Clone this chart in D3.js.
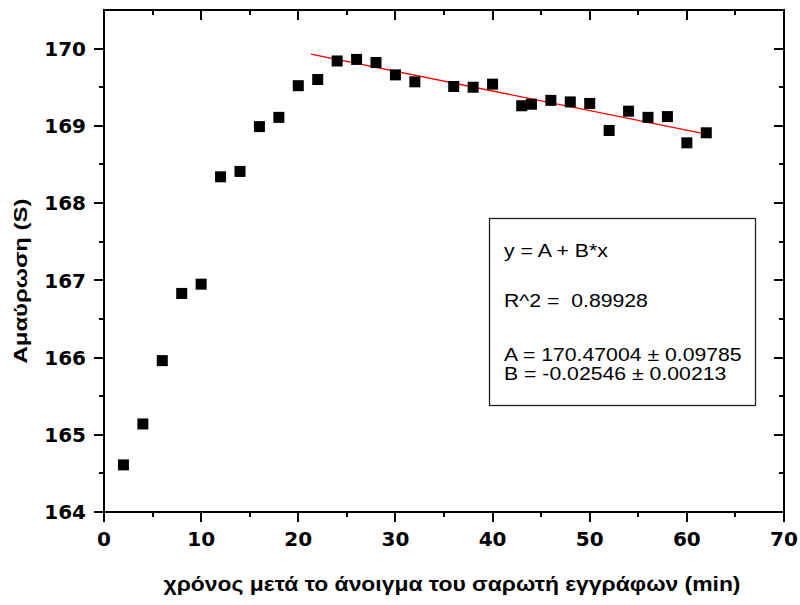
<!DOCTYPE html>
<html>
<head>
<meta charset="utf-8">
<script src="https://cdn.jsdelivr.net/npm/d3@7"></script>
<style>
  body { margin: 0; background: #fff; }
  svg { display: block; }
  .tk { stroke: #000; stroke-width: 2px; shape-rendering: crispEdges; }
  .lbl { font-family: "DejaVu Sans", Verdana, sans-serif; font-weight: bold; font-size: 20px; fill: #000; }
</style>
</head>
<body>
<script>
// time after opening the scanner (min) and absorbance readings
var timeMin = [2, 4, 6, 8, 10, 12, 14, 16, 18, 20, 22, 24, 26, 28, 30, 32, 36, 38, 40, 43, 44, 46, 48, 50, 52, 54, 56, 58, 60, 62];
var absorb = [164.61, 165.14, 165.96, 166.83, 166.95, 168.34, 168.41, 168.99, 169.11, 169.52, 169.60, 169.84, 169.86, 169.82,
              169.66, 169.57, 169.51, 169.50, 169.54, 169.26, 169.28, 169.33, 169.31, 169.29, 168.94, 169.19, 169.11, 169.12, 168.78, 168.91];

// linear fit y = A + B*x over the decaying part
var fitA = 170.47004, fitB = -0.02546;
var fitRange = [21.3, 62];
var fitLines = ["y = A + B*x", "R^2 =  0.89928", "A = 170.47004 \u00b1 0.09785", "B = -0.02546 \u00b1 0.00213"];

var xMajor = [0, 10, 20, 30, 40, 50, 60, 70];
var xMinor = [5, 15, 25, 35, 45, 55, 65];
var yMajor = [164, 165, 166, 167, 168, 169, 170];
var yMinor = [164.5, 165.5, 166.5, 167.5, 168.5, 169.5];

var width = 800, height = 605;
var padL = 104, padR = 784, padT = 10, padB = 512;

const svg = d3.select("body")
    .append("svg")
    .attr("width", width)
    .attr("height", height);

const x = d3.scaleLinear().domain([0, 70]).range([padL, padR]);
const y = d3.scaleLinear().domain([164, 170.5]).range([padB, padT]);

// tick marks: bottom/left point outward, top/right point inward
function xTicks(vals, len) {
    [padB, padT].forEach(function (base) {
        svg.selectAll(null).data(vals).enter().append("line")
            .attr("class", "tk")
            .attr("x1", function (d) { return x(d) }).attr("x2", function (d) { return x(d) })
            .attr("y1", base).attr("y2", base + len);
    });
}
function yTicks(vals, len) {
    [padL, padR].forEach(function (base) {
        svg.selectAll(null).data(vals).enter().append("line")
            .attr("class", "tk")
            .attr("y1", function (d) { return y(d) }).attr("y2", function (d) { return y(d) })
            .attr("x1", base).attr("x2", base - len);
    });
}
xTicks(xMajor, 10);
xTicks(xMinor, 5);
yTicks(yMajor, 10);
yTicks(yMinor, 5);

svg.selectAll("text.xl").data(xMajor).enter().append("text")
    .attr("class", "lbl xl")
    .attr("x", function (d) { return x(d) })
    .attr("y", padB + 34)
    .attr("text-anchor", "middle")
    .text(function (d) { return d });

svg.selectAll("text.yl").data(yMajor).enter().append("text")
    .attr("class", "lbl yl")
    .attr("x", padL - 18)
    .attr("y", function (d) { return y(d) + 7.3 })
    .attr("text-anchor", "end")
    .text(function (d) { return d });

// frame
svg.append("path")
    .attr("class", "tk")
    .attr("d", "M" + padL + "," + padT + "H" + padR + "V" + padB + "H" + padL + "Z")
    .style("fill", "none");

// fit line
svg.append("line")
    .attr("x1", x(fitRange[0])).attr("y1", y(fitA + fitB * fitRange[0]))
    .attr("x2", x(fitRange[1])).attr("y2", y(fitA + fitB * fitRange[1]))
    .style("stroke", "red").style("stroke-width", "1.3px");

// data squares
var sz = 11;
svg.selectAll("rect.pt")
    .data(timeMin)
    .enter()
    .append("rect")
    .attr("class", "pt")
    .attr("x", function (d) { return x(d) - sz / 2 })
    .attr("y", function (d, i) { return y(absorb[i]) - sz / 2 })
    .attr("width", sz)
    .attr("height", sz)
    .attr("fill", "#000");

// fit results box
svg.append("rect")
    .attr("x", 489.5).attr("y", 218.5)
    .attr("width", 266).attr("height", 187)
    .style("fill", "#fff").style("stroke", "#222").style("stroke-width", "1.3px");

var lineY = [257, 306.5, 361, 380];
svg.selectAll("text.fit")
    .data(fitLines)
    .enter()
    .append("text")
    .attr("class", "fit")
    .attr("transform", function (d, i) { return "translate(504," + lineY[i] + ") scale(1.18,1)" })
    .attr("font-family", "Liberation Sans, Arial, sans-serif")
    .attr("font-size", 18)
    .attr("fill", "#000")
    .style("white-space", "pre")
    .text(function (d) { return d });

// axis titles
svg.append("text")
    .attr("x", 452).attr("y", 591)
    .attr("text-anchor", "middle")
    .attr("font-family", "Liberation Sans, Arial, sans-serif")
    .attr("font-weight", "bold")
    .attr("font-size", 20)
    .attr("textLength", 577)
    .attr("lengthAdjust", "spacingAndGlyphs")
    .text("χρόνος μετά το άνοιγμα του σαρωτή εγγράφων (min)");

svg.append("text")
    .attr("transform", "translate(27,281) rotate(-90)")
    .attr("text-anchor", "middle")
    .attr("font-family", "Liberation Sans, Arial, sans-serif")
    .attr("font-weight", "bold")
    .attr("font-size", 19)
    .attr("textLength", 165)
    .attr("lengthAdjust", "spacingAndGlyphs")
    .text("Αμαύρωση (S)");
</script>
</body>
</html>
